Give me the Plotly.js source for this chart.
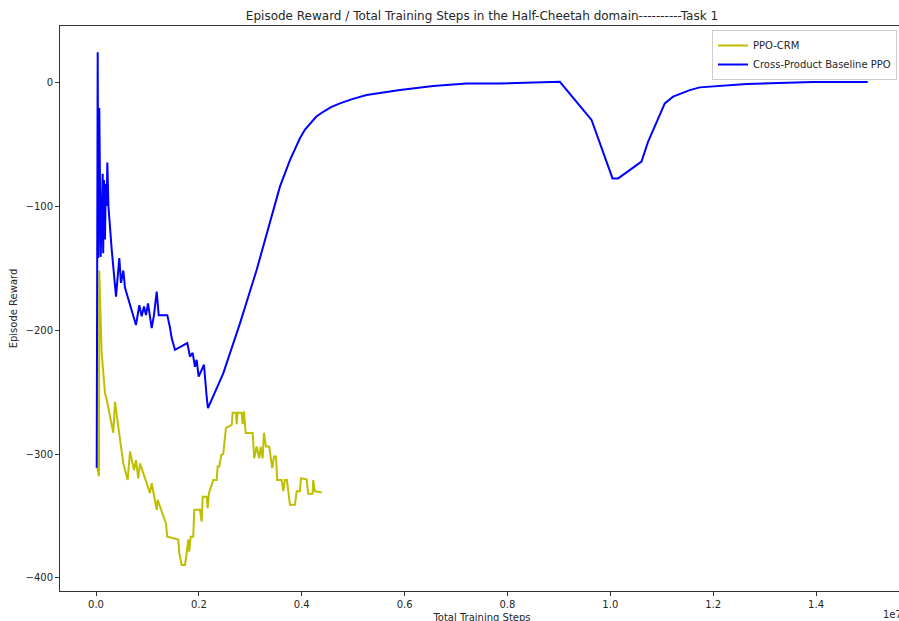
<!DOCTYPE html>
<html>
<head>
<meta charset="utf-8">
<script src="https://cdn.plot.ly/plotly-3.0.1.min.js"></script>
<style>
html,body{margin:0;padding:0;overflow:hidden;background:#fff;width:899px;height:621px;}
#chart{width:910px;height:630px;}
</style>
</head>
<body>
<div id="chart"></div>
<script>
// Training steps are in units of 1e7
const crmSteps = [0.0025,0.0058,0.0064,0.011,0.0175,0.0208,0.0336,0.0369,0.0433,0.0531,0.0616,0.0661,0.0739,0.0777,0.0822,0.0855,0.105,0.1083,0.118,0.1199,0.136,0.1386,0.16,0.1619,0.1666,0.173,0.1763,0.1794,0.1813,0.1841,0.1891,0.1911,0.2021,0.2054,0.2074,0.2152,0.2171,0.2196,0.228,0.2346,0.2365,0.2396,0.2435,0.2474,0.2527,0.2638,0.2657,0.2721,0.2735,0.2754,0.2832,0.2851,0.2877,0.291,0.3046,0.3077,0.3123,0.3174,0.3201,0.324,0.3265,0.3304,0.3368,0.3401,0.3427,0.346,0.3499,0.3524,0.3609,0.3641,0.3673,0.3712,0.3771,0.3868,0.3901,0.3965,0.3984,0.4095,0.4126,0.4212,0.4223,0.4257,0.4387];
const crmReward = [-311,-318,-152,-218.5,-251,-256,-283,-258,-278,-307.6,-321,-298,-313,-305,-319.6,-307.6,-331.6,-323.6,-345,-337,-356,-366.7,-369,-380,-389.5,-389.5,-380,-369,-378.8,-366.7,-366.7,-345,-345,-354.6,-334.4,-334.4,-343.6,-331.7,-321,-321,-310,-310,-301,-300,-279,-276.6,-266.7,-266.7,-276,-266.7,-266.7,-276,-265.6,-283,-283,-303.5,-294,-303.5,-294,-303.5,-283,-294,-294,-302,-311.6,-302,-302,-321,-321,-330,-321,-321,-341,-341,-330,-330,-319.6,-320.4,-332,-332,-321,-330,-331];

const baseSteps = [0.0014,0.0033,0.0045,0.0064,0.0091,0.013,0.014,0.0155,0.0175,0.0189,0.0208,0.022,0.0243,0.0305,0.0389,0.0453,0.0486,0.0531,0.0564,0.0777,0.0842,0.0888,0.0933,0.0972,0.1011,0.105,0.1083,0.1127,0.118,0.1219,0.1386,0.1438,0.1471,0.1535,0.1775,0.1827,0.1879,0.1924,0.1957,0.1996,0.2099,0.2152,0.2177,0.2474,0.2799,0.3123,0.3382,0.3576,0.3771,0.3965,0.406,0.416,0.428,0.4418,0.457,0.4742,0.498,0.5261,0.5909,0.6556,0.7205,0.7852,0.863,0.9019,0.9635,0.9796,1.0043,1.0152,1.0606,1.0735,1.1059,1.122,1.1545,1.174,1.2647,1.3936,1.5005];
const baseReward = [-311,24,-142,-21,-141,-74,-138,-79,-127,-82,-100,-65,-101,-135,-173,-142,-162,-152,-166,-196,-180,-189,-181,-188,-178.5,-188,-198.5,-188,-169,-188,-188,-198,-206.5,-216,-210.5,-221.5,-218.5,-229.6,-224,-237.6,-228,-254,-263,-235,-194.6,-151.6,-114,-84.4,-63,-45.4,-38.5,-33.3,-28,-24,-20.2,-17.2,-13.8,-10.5,-6.5,-3.2,-1.1,-1.1,-0.5,0.2,-30.6,-49.5,-77.7,-77.7,-64.2,-48,-17.2,-11.8,-6.5,-4.3,-1.6,0,0];

const xTickVals = [0.0,0.2,0.4,0.6,0.8,1.0,1.2,1.4];
const xTickText = ["0.0","0.2","0.4","0.6","0.8","1.0","1.2","1.4"];
const yTickVals = [0,-100,-200,-300,-400];

const traces = [
  {x: crmSteps, y: crmReward, type: 'scatter', mode: 'lines', name: 'PPO-CRM',
   line: {color: '#bfbf00', width: 2}},
  {x: baseSteps, y: baseReward, type: 'scatter', mode: 'lines', name: 'Cross-Product Baseline PPO',
   line: {color: '#0000ff', width: 2}}
];

const axisCommon = {
  showline: true, mirror: true, linecolor: '#333', linewidth: 1,
  ticks: 'outside', ticklen: 4, tickwidth: 1, tickcolor: '#333',
  showgrid: false, zeroline: false,
  tickfont: {family: 'DejaVu Sans', size: 10, color: '#262626'}
};

const layout = {
  width: 910, height: 630,
  margin: {l: 60, r: 6, t: 26, b: 39},
  paper_bgcolor: '#fff', plot_bgcolor: '#fff',
  font: {family: 'DejaVu Sans', color: '#262626'},
  title: {text: 'Episode Reward / Total Training Steps in the Half-Cheetah domain----------Task 1',
          font: {family: 'DejaVu Sans', size: 12, color: '#262626'},
          x: 0.5, xref: 'paper', y: 1 - 16/630, yref: 'container', yanchor: 'middle'},
  xaxis: Object.assign({}, axisCommon, {
    range: [-0.07, 1.571], tickvals: xTickVals, ticktext: xTickText,
    title: {text: 'Total Training Steps', font: {family: 'DejaVu Sans', size: 10, color: '#262626'}, standoff: 4},
    automargin: false
  }),
  yaxis: Object.assign({}, axisCommon, {
    range: [-410.5, 45.2], tickvals: yTickVals,
    title: {text: 'Episode Reward', font: {family: 'DejaVu Sans', size: 10, color: '#262626'}, standoff: 6},
    automargin: false
  }),
  showlegend: true,
  legend: {x: (897-60)/844, xanchor: 'right', y: (591-30)/565, yanchor: 'top',
           itemwidth: 30, tracegroupgap: 0,
           bgcolor: 'rgba(255,255,255,0.8)', bordercolor: '#cccccc', borderwidth: 1,
           font: {family: 'DejaVu Sans', size: 10, color: '#262626'}},
  annotations: [
    {text: '1e7', xref: 'paper', yref: 'paper', x: 1, xanchor: 'right', y: (591-615)/565, yanchor: 'middle',
     showarrow: false, font: {family: 'DejaVu Sans', size: 10, color: '#262626'}}
  ]
};

Plotly.newPlot('chart', traces, layout, {displayModeBar: false, staticPlot: true});
</script>
</body>
</html>
